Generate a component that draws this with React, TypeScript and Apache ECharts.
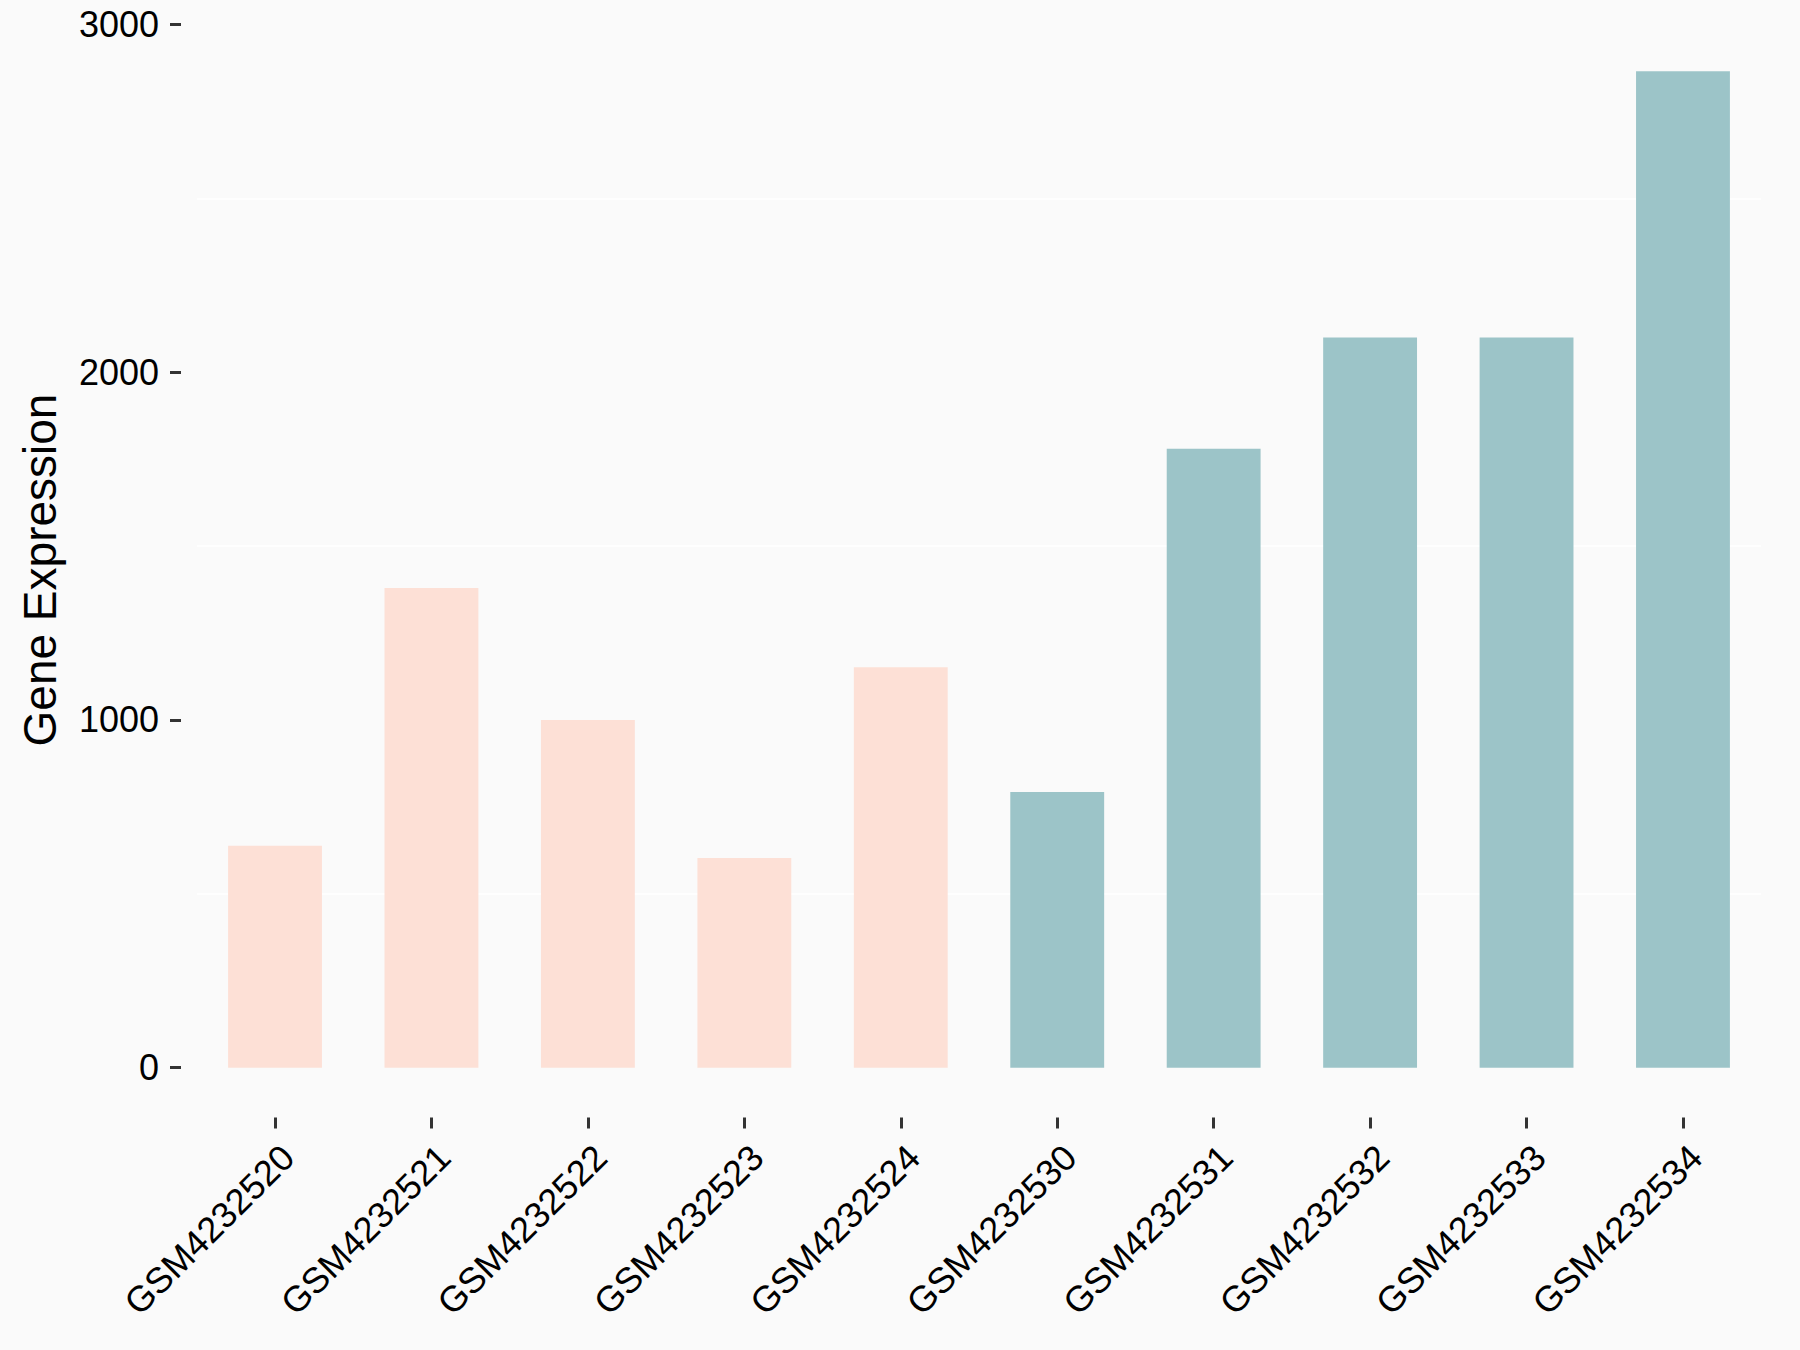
import React, { useEffect, useRef } from "react";
import * as echarts from "echarts";

const categories = [
  "GSM4232520",
  "GSM4232521",
  "GSM4232522",
  "GSM4232523",
  "GSM4232524",
  "GSM4232530",
  "GSM4232531",
  "GSM4232532",
  "GSM4232533",
  "GSM4232534",
];
const expression = [638, 1380, 1000, 603, 1152, 793, 1780, 2100, 2100, 2866];
const groups = ["A", "A", "A", "A", "A", "B", "B", "B", "B", "B"];
const groupColors: Record<string, string> = { A: "#FDE0D6", B: "#9CC4C8" };
const yTicks = [0, 1000, 2000, 3000];
const yGrid = [500, 1500, 2500];
const yMin = -143.3;
const yMax = 3009.3;
const yTitle = "Gene Expression";

const FONT = "'Liberation Sans', Arial, Helvetica, sans-serif";

export default function App() {
  const ref = useRef<HTMLDivElement>(null);
  useEffect(() => {
    if (!ref.current) return;
    const chart = echarts.init(ref.current, null, { renderer: "svg" });
    chart.setOption({
      animation: false,
      backgroundColor: "#FAFAFA",
      textStyle: { fontFamily: FONT },
      grid: {
        left: 196.8,
        right: 38.8,
        top: 21.4,
        bottom: 232.5,
        containLabel: false,
        outerBoundsMode: "none",
      },
      graphic: [
        {
          type: "text",
          x: 40,
          y: 570,
          rotation: Math.PI / 2,
          style: {
            text: yTitle,
            fontSize: 46,
            fontFamily: FONT,
            fill: "#000000",
            align: "center",
            verticalAlign: "middle",
          },
        },
      ],
      xAxis: {
        type: "category",
        data: categories,
        boundaryGap: true,
        axisLine: { show: false, onZero: false },
        axisTick: {
          show: true,
          alignWithLabel: true,
          length: 11,
          lineStyle: { color: "#333333", width: 3 },
        },
        axisLabel: {
          interval: 0,
          rotate: 45,
          align: "right",
          verticalAlign: "top",
          margin: 21,
          fontSize: 36,
          color: "#000000",
          fontFamily: FONT,
        },
        splitLine: { show: false },
      },
      yAxis: {
        type: "value",
        min: yMin,
        max: yMax,
        offset: 15.8,
        axisLine: { show: false },
        axisTick: {
          show: true,
          customValues: yTicks,
          length: 11,
          lineStyle: { color: "#333333", width: 3 },
        },
        axisLabel: {
          customValues: yTicks,
          margin: 22,
          fontSize: 36,
          color: "#000000",
          fontFamily: FONT,
          formatter: (v: number) => String(v),
        },
        splitLine: { show: false },
      },
      series: [
        {
          type: "line",
          data: [],
          z: 1,
          silent: true,
          markLine: {
            z: 1,
            silent: true,
            symbol: ["none", "none"],
            label: { show: false },
            lineStyle: { color: "#FFFFFF", width: 1.5, type: "solid" },
            data: yGrid.map((v) => ({ yAxis: v })),
          },
        },
        {
          type: "bar",
          z: 3,
          barWidth: "60%",
          data: expression.map((v, i) => ({
            value: v,
            itemStyle: { color: groupColors[groups[i]] },
          })),
        },
      ],
    });
    return () => chart.dispose();
  }, []);
  return (
    <div
      ref={ref}
      style={{ position: "fixed", left: 0, top: 0, width: 1800, height: 1350 }}
    />
  );
}
